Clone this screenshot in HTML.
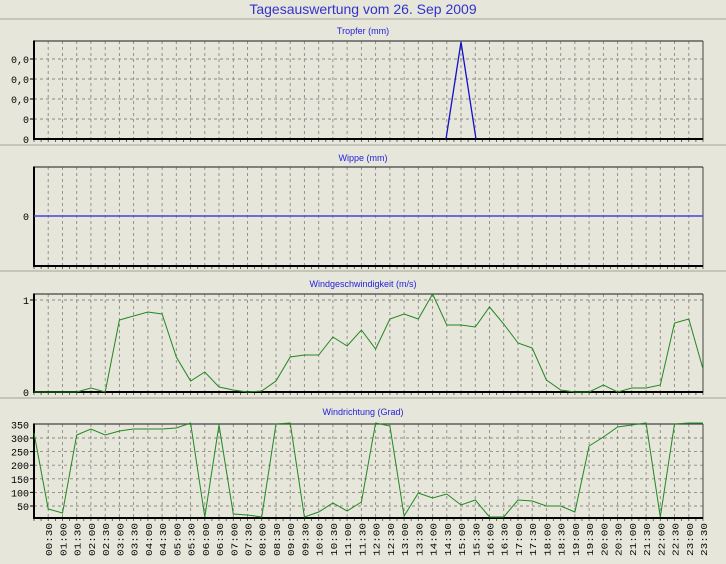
<!DOCTYPE html>
<html><head><meta charset="utf-8"><style>
html,body{margin:0;padding:0;background:#e6e6da;}
svg{display:block;font-family:"Liberation Sans",sans-serif;}
</style></head><body>
<svg id="s" width="726" height="564" viewBox="0 0 726 564" xmlns="http://www.w3.org/2000/svg">
<rect width="726" height="564" fill="#e6e6da"/>
<text x="363" y="14" text-anchor="middle" font-size="14" fill="#3333cc">Tagesauswertung vom 26. Sep 2009</text>
<g stroke="#b8b8ae" stroke-width="1.5">
<line x1="0" y1="19" x2="726" y2="19"/>
<line x1="0" y1="145" x2="726" y2="145"/>
<line x1="0" y1="271" x2="726" y2="271"/>
<line x1="0" y1="398" x2="726" y2="398"/>
</g>
<text x="363" y="34" text-anchor="middle" font-size="9" fill="#2222dd">Tropfer (mm)</text>
<text x="363" y="161" text-anchor="middle" font-size="9" fill="#2222dd">Wippe (mm)</text>
<text x="363" y="287" text-anchor="middle" font-size="9" fill="#2222dd">Windgeschwindigkeit (m/s)</text>
<text x="363" y="415" text-anchor="middle" font-size="9" fill="#2222dd">Windrichtung (Grad)</text>
<g id="g"></g>
</svg>
<script>
var g=document.getElementById('g'),h='';
var L=34,R=703,dx=(R-L)/47;
function X(i){return L+i*dx;}
function panel(t,b,hy){
 for(var i=1;i<47;i++){var x=X(i).toFixed(1);h+='<line x1="'+x+'" y1="'+t+'" x2="'+x+'" y2="'+b+'" stroke="#8a8a85" stroke-dasharray="3,3" stroke-width="0.9"/>';}
 hy.forEach(function(y){h+='<line x1="'+L+'" y1="'+y+'" x2="'+R+'" y2="'+y+'" stroke="#8a8a85" stroke-dasharray="3,3" stroke-width="0.9"/>';h+='<line x1="'+(L-4)+'" y1="'+y+'" x2="'+L+'" y2="'+y+'" stroke="#000"/>';});
 for(var i=0;i<=94;i++){var x=(L+i*dx/2).toFixed(1);h+='<line x1="'+x+'" y1="'+b+'" x2="'+x+'" y2="'+(b+3)+'" stroke="#444" stroke-width="0.8"/>';}
 h+='<line x1="'+L+'" y1="'+t+'" x2="'+R+'" y2="'+t+'" stroke="#444" stroke-width="1.2"/>';
 h+='<line x1="'+R+'" y1="'+t+'" x2="'+R+'" y2="'+b+'" stroke="#444" stroke-width="1"/>';
 h+='<line x1="'+L+'" y1="'+(t-0.5)+'" x2="'+L+'" y2="'+(b+1)+'" stroke="#000" stroke-width="2"/>';
 h+='<line x1="'+(L-1)+'" y1="'+b+'" x2="'+R+'" y2="'+b+'" stroke="#000" stroke-width="2"/>';
}
function lab(y,s){h+='<text x="29" y="'+(y+4)+'" text-anchor="end" font-size="10" font-family="Liberation Mono,monospace" fill="#000">'+s+'</text>';}
panel(41,139,[59,79,99,119]);
lab(59,'0,0');lab(79,'0,0');lab(99,'0,0');lab(119,'0');lab(139,'0');
h+='<polyline points="446,139 461,42 476,139" fill="none" stroke="#1111cc" stroke-width="1.3"/>';
panel(167,266,[]);
h+='<line x1="'+L+'" y1="216" x2="'+R+'" y2="216" stroke="#4444dd" stroke-width="1.5"/>';
lab(216,'0');
panel(294,392,[300]);
lab(300,'1');lab(392,'0');
var ws=[392,392,392,392,388,392,320,316,312,314,357,381,372,387,390,392,391,381,357,355,355,337,346,330,349,319,314,319,294,325,325,327,307,324,343,348,380,390,392,392,385,392,388,388,385,323,319,369];
h+='<polyline points="'+ws.map(function(y,i){return X(i).toFixed(1)+','+y;}).join(' ')+'" fill="none" stroke="#228822" stroke-width="1"/>';
var hy=[];
for(var v=50;v<=300;v+=50){var y=519.6-v*95.2/350;hy.push(y.toFixed(1));}
panel(424,518,hy);
for(var v=50;v<=350;v+=50){lab(519.6-v*95.2/350,String(v));}
var wd=[433,509,513,435,429,435,431,429,429,429,428,423,517,425,514,515,517,424,423,517,512,503,511,502,423,426,516,493,498,494,505,500,517,517,500,501,506,506,512,446,437,427,425,423,517,424,423,423];
h+='<polyline points="'+wd.map(function(y,i){return X(i).toFixed(1)+','+y;}).join(' ')+'" fill="none" stroke="#228822" stroke-width="1"/>';
for(var i=1;i<=47;i++){var hh=Math.floor(i/2),m=i%2?'30':'00';var s=(hh<10?'0':'')+hh+':'+m;var x=X(i)+4;
 h+='<text transform="translate('+x.toFixed(1)+',556) rotate(-90)" font-size="9" font-family="Liberation Mono,monospace" fill="#000" textLength="33" lengthAdjust="spacingAndGlyphs">'+s+'</text>';}
g.innerHTML=h;
</script>
</body></html>
